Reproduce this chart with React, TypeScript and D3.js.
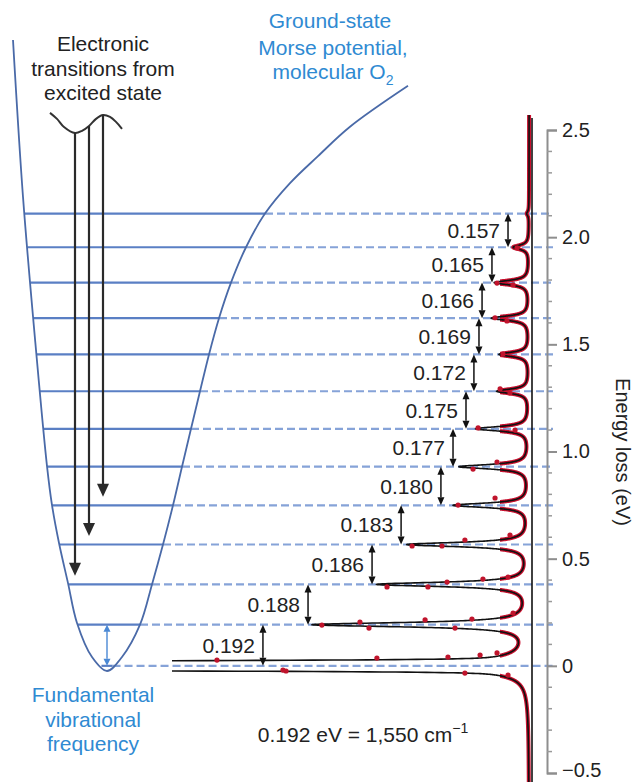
import { useEffect, useRef } from 'react'
import * as d3 from 'd3'

// vibrational spacings (eV)
const spacings = [0.192, 0.188, 0.186, 0.183, 0.180, 0.177, 0.175, 0.172, 0.169, 0.166, 0.165, 0.157]
const levels = spacings.reduce<number[]>((acc, s) => [...acc, acc[acc.length - 1] + s], [0])

// loss peak heights (arb. units, level 1 ~ 100), index 0 = elastic handled separately
const peakHeights = [0, 97.5, 68.5, 55, 34, 31.5, 24, 14.5, 13.5, 17, 15.7, 7.1, 1.0]
const peakWidth = 0.012
const elasticHeight = 2273
const elasticSigma = 0.01
const elasticTail = 82
const elasticTailWidth = 0.02
const background = 1.3

// where the spacing arrows sit, in intensity units
const arrowAt = [122.3, 101.8, 72.7, 59.5, 41.4, 35.9, 30, 26.4, 24.1, 22.7, 18.2, 10.9]

// measured points (energy, intensity)
const dataE = [0.027, -0.02, 0.19, 0.204, 0.176, 0.036, 0.368, 0.368, 0.391, 0.405, 0.414, 0.214, 0.176, 0.218, 0.246,
  0.041, 0.05, 0.06, 0.559, 0.559, 0.587, 0.61, 0.75, 0.783, 0.918, 0.951, 1.11, 1.1, -0.024, -0.034, -0.043,
  1.273, 1.292, 1.455, 1.624, 1.609, 1.786, 1.777, 1.95]
const dataI = [143.2, 113.2, 95.5, 78.2, 74.1, 70.5, 65.9, 47.3, 38.6, 22.3, 10.9, 48.6, 35.0, 27.3, 8.6,
  38.2, 23.6, 15.9, 54.5, 40.9, 30.5, 10.0, 33.6, 16.8, 26.8, 15.9, 24.5, 7.7, 111.8, 30.5, 10.9,
  10, 14.5, 13.2, 16.8, 11.4, 15.9, 8.6, 6.8]

// ground-state Morse curve, internuclear distance (Å) vs energy (eV)
const morseR = [0.975, 1.0, 1.0325, 1.06, 1.0725, 1.09, 1.1125, 1.135, 1.1725, 1.21, 1.2475,
  1.2925, 1.3225, 1.35, 1.375, 1.3975, 1.42, 1.4425, 1.465, 1.49, 1.52, 1.5575, 1.605,
  1.6675, 1.7375, 1.8175, 1.9625]
const morseE = [2.92, 2.188, 1.474, 0.932, 0.75, 0.573, 0.386, 0.2, 0.041, -0.024, 0.041,
  0.192, 0.38, 0.566, 0.749, 0.929, 1.106, 1.281, 1.453, 1.622, 1.788, 1.953, 2.11,
  2.252, 2.378, 2.515, 2.706]
const minIdx = 9

// excited-state sketch
const waveR = [1.0675, 1.085, 1.1025, 1.13, 1.1475, 1.165, 1.1825, 1.2, 1.2175, 1.2325, 1.2475]
const waveE = [2.58, 2.552, 2.514, 2.486, 2.496, 2.519, 2.552, 2.57, 2.561, 2.538, 2.505]
const transitionR = [1.13, 1.165, 1.2]
const transitionTo = [2, 3, 4]

const majorTicks = [-0.5, 0, 0.5, 1, 1.5, 2, 2.5]
const minorTicks = d3.range(-5, 26).map(v => v / 10).filter(v => Math.abs(v * 2 - Math.round(v * 2)) > 1e-6)

const FONT = '"Liberation Sans", Arial, Helvetica, sans-serif'
const BLUE_TEXT = '#2f8ad2'

function intensity(E: number) {
  let v = background
  v += elasticHeight * Math.exp(-E * E / (2 * elasticSigma * elasticSigma))
  v += elasticTail * elasticTailWidth ** 2 / (elasticTailWidth ** 2 + E * E)
  levels.forEach((L, i) => {
    if (i > 0) v += peakHeights[i] * peakWidth ** 2 / (peakWidth ** 2 + (E - L) ** 2)
  })
  return v
}

function VArrow({ x, y1, y2, color, sw, hw, hl, both }: { x: number; y1: number; y2: number; color: string; sw: number; hw: number; hl: number; both?: boolean }) {
  const dir = Math.sign(y2 - y1)
  const a = both ? y1 + dir * hl : y1
  const b = y2 - dir * hl
  return (
    <g>
      <line x1={x} x2={x} y1={a} y2={b + dir * 0.5} stroke={color} strokeWidth={sw} />
      <path d={`M${x - hw / 2},${b}L${x + hw / 2},${b}L${x},${y2}Z`} fill={color} />
      {both && <path d={`M${x - hw / 2},${a}L${x + hw / 2},${a}L${x},${y1}Z`} fill={color} />}
    </g>
  )
}

export default function App() {
  const axisRef = useRef<SVGGElement>(null)
  const W = 633, H = 782

  const yE = d3.scaleLinear().domain([-0.5, 2.5]).range([773, 130])
  const xI = d3.scaleLinear().domain([0, 100]).range([532, 312])
  const xR = d3.scaleLinear().domain([1.0, 2.0]).range([23, 423])
  const axisX = 547
  const dashEnd = 553

  const leftWall = d3.scaleLinear().domain(morseE.slice(0, minIdx + 1)).range(morseR.slice(0, minIdx + 1))
  const rightWall = d3.scaleLinear().domain(morseE.slice(minIdx)).range(morseR.slice(minIdx))
  const wave = d3.scaleLinear().domain(waveR).range(waveE)

  const morsePath = d3.line<number>()
    .x((_, i) => xR(morseR[i]))
    .y(d => yE(d))
    .curve(d3.curveCatmullRom.alpha(0.5))(morseE) || ''

  const wavePath = d3.line<number>()
    .x(d => xR(d))
    .y((_, i) => yE(waveE[i]))
    .curve(d3.curveCatmullRom.alpha(0.5))(waveR) || ''

  const energies = d3.range(-0.56, 2.57, 0.0005)
  const specPath = d3.line<number>()
    .x(E => xI(intensity(E)))
    .y(E => yE(E))(energies) || ''

  useEffect(() => {
    if (!axisRef.current) return
    const g = d3.select(axisRef.current)
    g.selectAll('*').remove()
    const fmt = (d: d3.NumberValue) => {
      const v = +d
      if (v === 0) return '0'
      if (v < 0) return '\u2212' + Math.abs(v).toFixed(1)
      return v.toFixed(1)
    }
    g.call(d3.axisRight(yE).tickValues(majorTicks).tickSize(10).tickPadding(5).tickFormat(fmt))
    g.attr('font-size', 20).attr('font-family', FONT)
    g.select('.domain').attr('stroke', '#8e8e8e').attr('stroke-width', 2)
    g.selectAll('.tick line').attr('stroke', '#8e8e8e').attr('stroke-width', 2)
    g.selectAll('.tick text').attr('fill', '#222')
    // bottom label sits on the page edge; lift it a little so it stays whole
    g.selectAll<SVGTextElement, number>('.tick text').filter(d => d < 0).attr('y', -3)
    g.selectAll('.minor').data(minorTicks).join('line')
      .attr('class', 'minor')
      .attr('x1', 0).attr('x2', 5)
      .attr('y1', d => yE(d)).attr('y2', d => yE(d))
      .attr('stroke', '#9a9a9a').attr('stroke-width', 1.5)
  }, [])

  return (
    <svg width={W} height={H} style={{ position: 'absolute', left: 0, top: 0, background: '#fff' }} fontFamily={FONT}>
      <defs>
        <clipPath id="spec-clip"><rect x={172} y={0} width={380} height={H} /></clipPath>
        <clipPath id="red-clip"><rect x={500} y={0} width={40} height={H} /></clipPath>
      </defs>

      {/* dashed continuation of the levels */}
      {levels.map((L, i) => (
        <line key={'d' + i} x1={xR(rightWall(L))} x2={dashEnd} y1={yE(L)} y2={yE(L)}
          stroke="#86a3d8" strokeWidth={2.2} strokeDasharray="8 4" />
      ))}

      {/* solid levels inside the well */}
      {levels.map((L, i) => (
        <line key={'s' + i} x1={xR(leftWall(L))} x2={xR(rightWall(L))} y1={yE(L)} y2={yE(L)}
          stroke="#5a7fc4" strokeWidth={2.2} />
      ))}

      <path d={morsePath} fill="none" stroke="#4a6aa8" strokeWidth={1.8} />

      {/* fundamental arrow */}
      <VArrow x={xR(morseR[minIdx])} y1={yE(levels[0])} y2={yE(levels[1])} color="#4a88d4" sw={1.4} hw={7} hl={7} both />

      {/* excited state and transitions */}
      <path d={wavePath} fill="none" stroke="#333" strokeWidth={2} />
      {transitionR.map((r, i) => (
        <VArrow key={'t' + i} x={xR(r)} y1={yE(wave(r))} y2={yE(levels[transitionTo[i]] + 0.04)}
          color="#2a2a2a" sw={2.2} hw={12} hl={13} />
      ))}

      {/* spectrum */}
      <line x1={xI(0)} x2={xI(0)} y1={118} y2={H} stroke="#111" strokeWidth={1.6} />
      <g clipPath="url(#red-clip)">
        <path d={specPath} fill="none" stroke="#c8102e" strokeWidth={4} strokeLinejoin="round" />
      </g>
      <g clipPath="url(#spec-clip)">
        <path d={specPath} fill="none" stroke="#111" strokeWidth={1.6} strokeLinejoin="round" />
      </g>
      {dataE.map((E, i) => (
        <circle key={'p' + i} cx={xI(dataI[i])} cy={yE(E)} r={2.6} fill="#c0142c" />
      ))}

      {/* spacing arrows and labels */}
      {spacings.map((s, i) => {
        const x = xI(arrowAt[i])
        const ya = yE(levels[i]), yb = yE(levels[i + 1])
        return (
          <g key={'a' + i}>
            <VArrow x={x} y1={ya} y2={yb} color="#111" sw={1.5} hw={7} hl={8} both />
            <text x={x - 8} y={(ya + yb) / 2 + 7.5} textAnchor="end" fontSize={21} fill="#222">{s.toFixed(3)}</text>
          </g>
        )
      })}

      <g ref={axisRef} transform={`translate(${axisX},0)`} />

      <text transform="translate(616,452) rotate(90)" textAnchor="middle" fontSize={20} fill="#222">Energy loss (eV)</text>

      <g fontSize={21} textAnchor="middle" fill="#222">
        <text x={103} y={51}>Electronic</text>
        <text x={103} y={76}>transitions from</text>
        <text x={103} y={100}>excited state</text>
      </g>

      <g fontSize={21} textAnchor="middle" fill={BLUE_TEXT}>
        <text x={330} y={28}>Ground-state</text>
        <text x={333} y={55}>Morse potential,</text>
        <text x={333} y={79}>molecular O<tspan fontSize={14} dy={6}>2</tspan></text>
      </g>

      <g fontSize={21} textAnchor="middle" fill={BLUE_TEXT}>
        <text x={93} y={702}>Fundamental</text>
        <text x={93} y={727}>vibrational</text>
        <text x={93} y={751}>frequency</text>
      </g>

      <text x={363} y={742} textAnchor="middle" fontSize={21} fill="#222">
        0.192 eV = 1,550 cm<tspan fontSize={14} dy={-9}>{'\u22121'}</tspan>
      </text>
    </svg>
  )
}
